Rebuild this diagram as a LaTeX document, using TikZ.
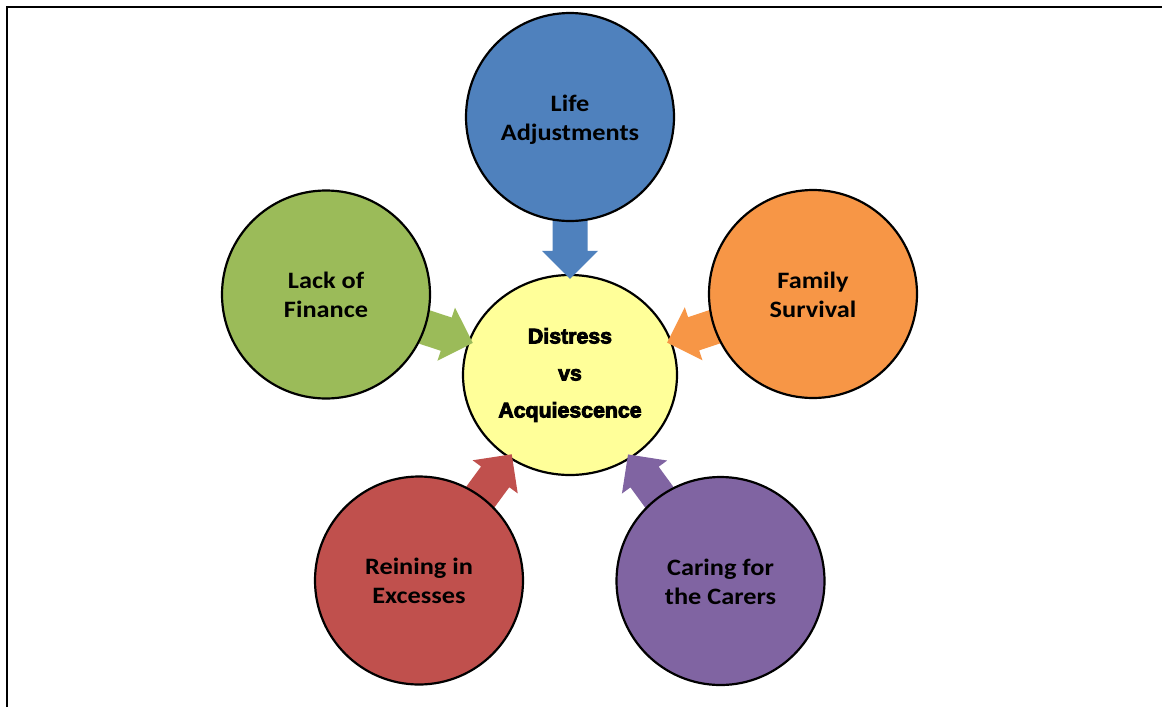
\documentclass[tikz,border=0pt]{standalone}
\usepackage{fontspec}
\setmainfont{Carlito}[FakeStretch=1.12]
\newfontfamily\heavyfont[BoldFeatures={FakeBold=4}]{Liberation Sans}
\usetikzlibrary{calc,shapes.geometric}
\definecolor{cblue}{HTML}{4F81BD}
\definecolor{cgreen}{HTML}{9BBB59}
\definecolor{corange}{HTML}{F79646}
\definecolor{cred}{HTML}{C0504D}
\definecolor{cpurple}{HTML}{8064A2}
\definecolor{cyellow}{HTML}{FFFF99}
\pgfdeclarelayer{bg}
\pgfdeclarelayer{mid}
\pgfsetlayers{bg,mid,main}
\newcommand\lineTop{\rule{0pt}{22pt}}
\newcommand\lineBot{\rule[-5pt]{0pt}{5pt}}
\newcommand\blockarr[3]{%
  \path (#1) -- (#2) coordinate[pos=0] (#1S) coordinate[pos=1] (#1E);
  \coordinate (#1T) at ($(#1E)!-5pt!(#1S)$);
  \coordinate (#1A) at ($(#1S)!-8pt!(#1E)$);
  \coordinate (#1B) at ($(#1T)!28pt!(#1S)$);
  \fill[#3] ($(#1A)!17.5pt!90:(#1T)$) -- ($(#1B)!17.5pt!90:(#1T)$)
    -- ($(#1B)!28pt!90:(#1T)$) -- (#1T) -- ($(#1B)!28pt!-90:(#1T)$)
    -- ($(#1B)!17.5pt!-90:(#1T)$) -- ($(#1A)!17.5pt!-90:(#1T)$) -- cycle;
}
\tikzset{
  outer/.style={circle, draw=black, line width=2.2pt, minimum size=208pt,
    inner sep=0pt, align=center, font=\fontsize{23.5}{29}\selectfont\bfseries},
  coreshape/.style={ellipse, draw=black, line width=2.2pt, fill=cyellow,
    minimum width=214pt, minimum height=200pt, inner sep=0pt, align=center,
    font=\heavyfont\bfseries\fontsize{21.3}{37}\selectfont},
  frameline/.style={line width=2.3pt, draw=black}
}
\begin{document}
\begin{tikzpicture}[x=1pt, y=-1pt]
\useasboundingbox (0,0) rectangle (1162,707);
\coordinate (fl) at (7,707);
\coordinate (fc) at (7,7);
\coordinate (fr) at (1162,7);
\draw[frameline] (fl) -- (fc) -- (fr);
\begin{pgfonlayer}{bg}
\node[coreshape] (core) at (570,375) {Distress\\vs\\Acquiescence};
\end{pgfonlayer}
\node[outer, fill=cblue] (life) at (570,117) {\lineTop Life\\Adjustments\lineBot};
\node[outer, fill=cgreen] (finance) at (326,294.5) {\lineTop Lack of\\Finance\lineBot};
\node[outer, fill=corange] (family) at (813,294) {\lineTop Family\\Survival\lineBot};
\node[outer, fill=cred] (reining) at (419,580.5) {\lineTop Reining in\\Excesses\lineBot};
\node[outer, fill=cpurple] (caring) at (720.5,581) {\lineTop Caring for\\the Carers\lineBot};
\begin{pgfonlayer}{mid}
\blockarr{life}{core}{cblue}
\blockarr{finance}{core}{cgreen}
\blockarr{family}{core}{corange}
\blockarr{reining}{core}{cred}
\blockarr{caring}{core}{cpurple}
\end{pgfonlayer}
\end{tikzpicture}
\end{document}
